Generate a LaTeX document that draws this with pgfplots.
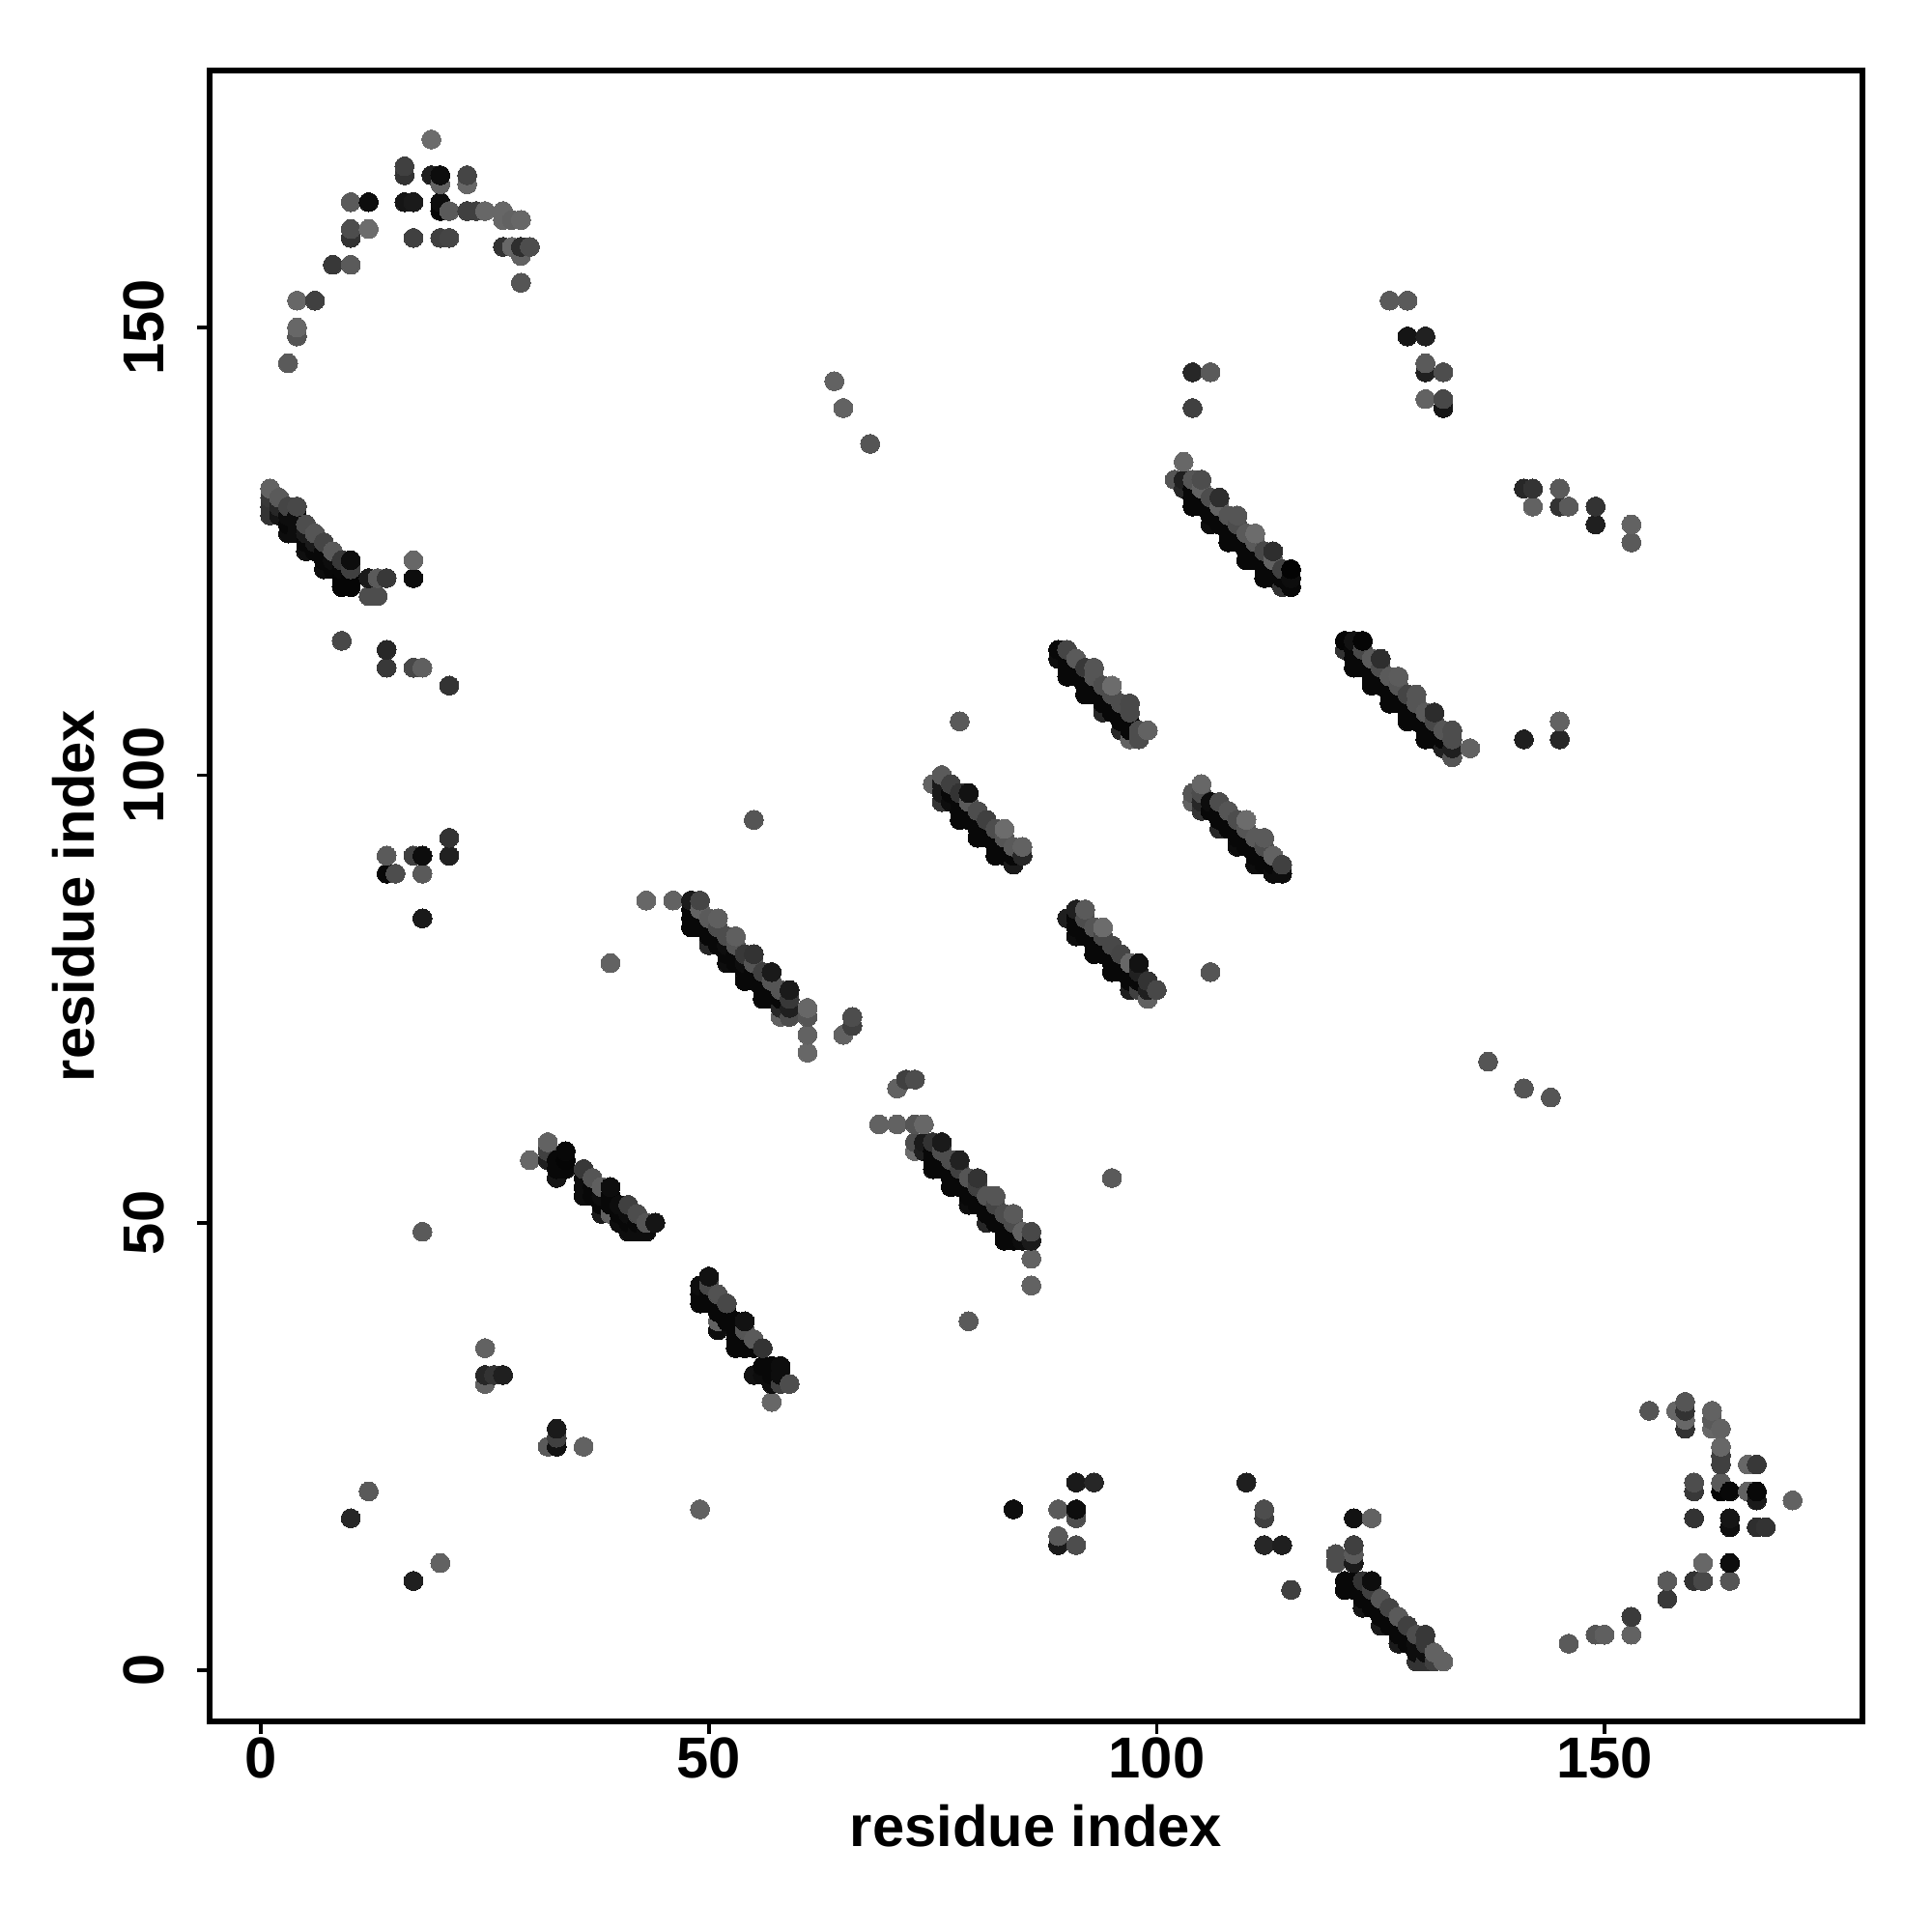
\documentclass[border=0pt]{standalone}
\usepackage{fontspec}
\setmainfont{Liberation Sans}
\usepackage{pgfplots}
\pgfplotsset{compat=1.18}
\begin{document}
\begin{tikzpicture}
\useasboundingbox (-21.7mm,-21.8mm) rectangle (178.3mm,178.2mm);
\begin{axis}[
  at={(0,0)},anchor=south west,
  scale only axis,width=171.1mm,height=170.9mm,
  xmin=-5.76,xmax=178.8,ymin=-5.69,ymax=178.7,
  xtick={0,50,100,150},ytick={0,50,100,150},
  xtick pos=lower,ytick pos=left,tick align=outside,
  major tick length=1.3mm,
  axis background/.style={},
  every axis/.append style={line width=.55mm},
  axis line style={line width=.55mm},
  tick style={line width=.38mm,black},
  /pgf/number format/assume math mode=true,
  tick label style={font=\bfseries\fontsize{17}{20}\selectfont},
  xticklabel style={anchor=base,yshift=-4.55mm},
  yticklabel style={rotate=90,anchor=base,yshift=3.4mm},
  xlabel={residue index},ylabel={residue index},
  label style={font=\bfseries\fontsize{17}{20}\selectfont},
  xlabel style={at={(axis description cs:0.5,0)},anchor=base,yshift=-12.95mm},
  ylabel style={at={(axis description cs:0,0.5)},anchor=base,yshift=11.9mm},
  colormap={bw}{gray(0cm)=(0); gray(1cm)=(1)},
  point meta min=0,point meta max=1,
  clip=false,
]
\addplot[only marks,scatter,mark=*,mark size=2.8pt,point meta=explicit,
  scatter/use mapped color={draw=mapped color,fill=mapped color,line width=0pt}]
coordinates {
(1,129)[.2](1,130)[.2](1,131)[.22](1,132)[.38]
(2,129)[.08](2,130)[.15](2,131)[.35]
(3,127)[.05](3,128)[.03](3,129)[.05](3,130)[.27](3,146)[.35]
(4,127)[.05](4,128)[.05](4,129)[.05](4,130)[.28](4,149)[.33](4,150)[.4](4,153)[.4]
(5,125)[.06](5,126)[.03](5,127)[.1](5,128)[.3]
(6,125)[.03](6,126)[.1](6,127)[.33](6,153)[.25]
(7,123)[.05](7,124)[.03](7,125)[.03](7,126)[.27]
(8,123)[.03](8,124)[.05](8,125)[.35](8,157)[.22]
(9,115)[.28](9,121)[.02](9,122)[.02](9,123)[.03](9,124)[.22]
(10,17)[.15](10,121)[.02](10,122)[.02](10,123)[.25](10,124)[.05](10,157)[.35](10,160)[.2](10,161)[.3](10,164)[.35]
(12,20)[.35](12,120)[.3](12,122)[.1](12,161)[.42](12,164)[.05]
(13,120)[.3](13,122)[.35]
(14,89)[.03](14,91)[.35](14,112)[.22](14,114)[.15](14,122)[.22]
(15,89)[.3]
(16,164)[.08](16,167)[.2](16,168)[.25]
(17,10)[.12](17,91)[.25](17,112)[.28](17,122)[.05](17,124)[.4](17,160)[.25](17,164)[.1]
(18,49)[.35](18,84)[.1](18,89)[.35](18,91)[.05](18,112)[.37]
(19,167)[.12](19,171)[.42]
(20,12)[.38](20,160)[.25](20,163)[.02](20,164)[.05](20,166)[.38](20,167)[.05]
(21,91)[.13](21,93)[.2](21,110)[.2](21,160)[.27](21,163)[.35]
(23,163)[.25](23,166)[.4](23,167)[.27]
(24,163)[.25]
(25,32)[.38](25,33)[.15](25,36)[.38](25,163)[.4]
(26,33)[.2]
(27,33)[.12](27,159)[.2](27,162)[.4](27,163)[.4]
(28,159)[.4](28,162)[.38]
(29,155)[.33](29,158)[.38](29,159)[.18](29,162)[.4]
(30,57)[.4](30,159)[.3]
(32,25)[.35](32,57)[.12](32,58)[.25](32,59)[.38]
(33,25)[.07](33,26)[.25](33,27)[.1](33,55)[.08](33,56)[.03](33,57)[.03]
(34,56)[.03](34,57)[.02](34,58)[.03]
(36,25)[.38](36,53)[.05](36,54)[.05](36,55)[.05](36,56)[.22]
(37,53)[.03](37,54)[.03](37,55)[.33]
(38,51)[.1](38,52)[.03](38,53)[.05](38,54)[.37]
(39,51)[.38](39,52)[.03](39,53)[.03](39,54)[.05](39,79)[.38]
(40,50)[.05](40,51)[.03](40,52)[.05]
(41,49)[.05](41,50)[.03](41,51)[.05](41,52)[.25]
(42,49)[.05](42,50)[.03](42,51)[.3]
(43,49)[.05](43,50)[.33](43,86)[.4]
(44,50)[.08]
(46,86)[.38]
(48,83)[.03](48,84)[.03](48,85)[.03](48,86)[.1]
(49,18)[.38](49,41)[.03](49,42)[.03](49,43)[.05](49,83)[.03](49,84)[.03](49,85)[.38](49,86)[.27]
(50,41)[.03](50,42)[.03](50,43)[.28](50,44)[.07](50,81)[.15](50,82)[.03](50,83)[.03](50,84)[.35]
(51,38)[.05](51,39)[.38](51,40)[.03](51,41)[.03](51,42)[.32](51,81)[.03](51,82)[.03](51,83)[.3](51,84)[.37]
(52,39)[.03](52,40)[.03](52,41)[.28](52,79)[.05](52,80)[.03](52,81)[.05](52,82)[.3]
(53,36)[.03](53,37)[.03](53,38)[.03](53,39)[.03](53,79)[.03](53,80)[.03](53,81)[.33](53,82)[.37]
(54,36)[.03](54,37)[.03](54,38)[.33](54,39)[.07](54,77)[.03](54,78)[.03](54,79)[.05](54,80)[.22]
(55,33)[.07](55,36)[.03](55,37)[.35](55,77)[.03](55,78)[.03](55,79)[.33](55,80)[.2](55,95)[.33]
(56,33)[.05](56,34)[.03](56,36)[.2](56,75)[.03](56,76)[.03](56,77)[.03](56,78)[.25]
(57,30)[.4](57,32)[.05](57,33)[.03](57,34)[.03](57,75)[.03](57,76)[.03](57,77)[.33](57,78)[.1]
(58,32)[.25](58,33)[.05](58,34)[.05](58,73)[.38](58,74)[.15](58,75)[.03](58,76)[.33]
(59,32)[.3](59,73)[.3](59,74)[.12](59,75)[.22](59,76)[.1]
(61,69)[.4](61,71)[.38](61,73)[.33](61,74)[.4]
(64,144)[.38]
(65,71)[.38](65,141)[.38]
(66,72)[.25](66,73)[.3]
(68,137)[.33]
(69,61)[.38]
(71,61)[.38](71,65)[.38]
(72,66)[.25]
(73,58)[.42](73,59)[.3](73,61)[.33](73,66)[.3]
(74,58)[.12](74,59)[.1](74,61)[.4]
(75,56)[.03](75,57)[.03](75,58)[.03](75,59)[.2](75,99)[.38]
(76,56)[.03](76,57)[.03](76,58)[.3](76,59)[.1](76,97)[.2](76,98)[.1](76,99)[.1](76,100)[.35]
(77,54)[.03](77,55)[.03](77,56)[.03](77,57)[.3](77,97)[.05](77,98)[.03](77,99)[.25]
(78,54)[.03](78,55)[.03](78,56)[.25](78,57)[.13](78,95)[.03](78,96)[.03](78,97)[.03](78,98)[.2](78,106)[.35]
(79,39)[.35](79,52)[.05](79,53)[.03](79,54)[.03](79,55)[.33](79,95)[.03](79,96)[.03](79,97)[.35](79,98)[.07]
(80,52)[.03](80,53)[.03](80,54)[.25](80,55)[.2](80,93)[.03](80,94)[.03](80,95)[.03](80,96)[.3]
(81,50)[.15](81,51)[.03](81,52)[.03](81,53)[.33](81,93)[.03](81,94)[.03](81,95)[.25]
(82,50)[.03](82,51)[.03](82,52)[.27](82,53)[.33](82,91)[.03](82,92)[.03](82,93)[.03](82,94)[.3]
(83,48)[.03](83,49)[.03](83,50)[.03](83,51)[.3](83,91)[.03](83,92)[.03](83,93)[.33](83,94)[.42]
(84,18)[.05](84,48)[.03](84,49)[.03](84,50)[.3](84,51)[.35](84,90)[.1](84,91)[.03](84,92)[.35]
(85,48)[.05](85,49)[.38](85,91)[.15](85,92)[.38]
(86,43)[.38](86,46)[.38](86,48)[.1](86,49)[.28]
(89,14)[.1](89,15)[.35](89,18)[.35](89,113)[.05](89,114)[.03]
(90,84)[.12](90,111)[.03](90,112)[.03](90,113)[.03](90,114)[.27]
(91,14)[.3](91,17)[.3](91,18)[.05](91,21)[.1](91,82)[.05](91,83)[.03](91,84)[.03](91,85)[.12](91,111)[.03](91,112)[.03](91,113)[.35]
(92,82)[.03](92,83)[.03](92,84)[.3](92,85)[.35](92,109)[.03](92,110)[.03](92,111)[.03](92,112)[.22]
(93,21)[.15](93,80)[.03](93,81)[.03](93,82)[.03](93,83)[.33](93,109)[.03](93,110)[.03](93,111)[.33](93,112)[.33]
(94,80)[.03](94,81)[.03](94,82)[.28](94,83)[.42](94,107)[.15](94,108)[.03](94,109)[.03](94,110)[.3]
(95,55)[.35](95,78)[.03](95,79)[.03](95,80)[.03](95,81)[.28](95,107)[.03](95,108)[.03](95,109)[.3](95,110)[.42]
(96,78)[.03](96,79)[.03](96,80)[.27](96,105)[.15](96,106)[.03](96,107)[.03](96,108)[.3]
(97,76)[.12](97,77)[.03](97,78)[.03](97,79)[.4](97,104)[.38](97,105)[.03](97,106)[.03](97,107)[.28](97,108)[.28]
(98,76)[.25](98,77)[.03](98,78)[.13](98,79)[.07](98,104)[.3](98,105)[.3]
(99,75)[.38](99,76)[.12](99,77)[.2](99,105)[.38]
(100,76)[.28]
(102,133)[.33]
(103,132)[.15](103,133)[.12](103,135)[.4]
(104,97)[.38](104,98)[.33](104,130)[.03](104,131)[.03](104,132)[.03](104,133)[.33](104,141)[.25](104,145)[.15]
(105,96)[.2](105,97)[.15](105,98)[.3](105,99)[.4](105,130)[.03](105,131)[.03](105,132)[.38](105,133)[.3]
(106,78)[.33](106,96)[.03](106,97)[.05](106,128)[.05](106,129)[.03](106,130)[.03](106,131)[.3](106,145)[.35]
(107,94)[.15](107,95)[.03](107,96)[.03](107,97)[.3](107,128)[.03](107,129)[.03](107,130)[.38](107,131)[.18]
(108,94)[.03](108,95)[.03](108,96)[.33](108,126)[.03](108,127)[.03](108,128)[.03](108,129)[.33]
(109,92)[.05](109,93)[.03](109,94)[.03](109,95)[.3](109,126)[.03](109,127)[.03](109,128)[.3](109,129)[.33]
(110,21)[.12](110,92)[.03](110,93)[.03](110,94)[.33](110,95)[.42](110,124)[.03](110,125)[.03](110,126)[.03](110,127)[.35]
(111,90)[.05](111,91)[.03](111,92)[.03](111,93)[.35](111,124)[.03](111,125)[.03](111,126)[.35](111,127)[.42]
(112,14)[.15](112,17)[.25](112,18)[.3](112,90)[.03](112,91)[.03](112,92)[.3](112,93)[.35](112,122)[.03](112,123)[.03](112,124)[.03](112,125)[.28]
(113,89)[.05](113,90)[.03](113,91)[.38](113,122)[.03](113,123)[.03](113,124)[.38](113,125)[.18]
(114,14)[.12](114,89)[.05](114,90)[.25](114,121)[.2](114,122)[.03](114,123)[.25]
(115,9)[.25](115,121)[.03](115,122)[.05](115,123)[.01]
(120,12)[.3](120,13)[.3]
(121,9)[.03](121,10)[.03](121,114)[.2](121,115)[.02]
(122,9)[.03](122,10)[.03](122,12)[.1](122,13)[.35](122,14)[.25](122,17)[.07](122,112)[.03](122,113)[.03](122,114)[.03](122,115)[.07]
(123,7)[.08](123,8)[.03](123,9)[.03](123,10)[.2](123,112)[.03](123,113)[.03](123,114)[.28](123,115)[.02]
(124,7)[.03](124,8)[.03](124,9)[.25](124,10)[.05](124,17)[.38](124,110)[.03](124,111)[.03](124,112)[.03](124,113)[.35]
(125,5)[.1](125,6)[.03](125,7)[.03](125,8)[.33](125,110)[.03](125,111)[.03](125,112)[.3](125,113)[.18]
(126,5)[.03](126,6)[.03](126,7)[.27](126,108)[.03](126,109)[.03](126,110)[.03](126,111)[.35](126,153)[.35]
(127,3)[.1](127,4)[.03](127,5)[.03](127,6)[.35](127,108)[.03](127,109)[.03](127,110)[.33](127,111)[.36]
(128,3)[.03](128,4)[.03](128,5)[.25](128,106)[.03](128,107)[.03](128,108)[.03](128,109)[.27](128,149)[.08](128,153)[.35]
(129,1)[.2](129,2)[.05](129,3)[.05](129,4)[.3](129,106)[.03](129,107)[.03](129,108)[.33](129,109)[.33]
(130,1)[.2](130,2)[.05](130,3)[.22](130,4)[.22](130,104)[.03](130,105)[.03](130,106)[.03](130,107)[.35](130,142)[.38](130,145)[.12](130,146)[.35](130,149)[.13]
(131,1)[.25](131,2)[.38](131,104)[.03](131,105)[.03](131,106)[.28](131,107)[.17]
(132,1)[.38](132,103)[.13](132,104)[.03](132,105)[.33](132,141)[.08](132,142)[.28](132,145)[.3]
(133,102)[.33](133,103)[.12](133,104)[.3](133,105)[.3]
(135,103)[.38]
(137,68)[.33]
(141,65)[.33](141,104)[.12](141,132)[.15]
(142,130)[.38](142,132)[.2]
(144,64)[.33]
(145,104)[.15](145,106)[.38](145,130)[.2](145,132)[.35]
(146,3)[.35](146,130)[.35]
(149,4)[.33](149,128)[.12](149,130)[.2]
(150,4)[.37]
(153,4)[.38](153,6)[.23](153,126)[.35](153,128)[.38]
(155,29)[.33]
(157,8)[.22](157,10)[.35]
(158,29)[.4]
(159,27)[.2](159,28)[.4](159,29)[.2](159,30)[.33]
(160,10)[.2](160,17)[.2](160,20)[.22](160,21)[.3]
(161,10)[.28](161,12)[.4]
(162,27)[.4](162,28)[.35](162,29)[.38]
(163,20)[.02](163,21)[.35](163,23)[.25](163,24)[.25](163,25)[.4](163,27)[.38]
(164,10)[.33](164,12)[.05](164,16)[.06](164,17)[.08](164,20)[.03]
(166,20)[.38](166,23)[.4]
(167,16)[.18](167,19)[.1](167,20)[.03](167,23)[.22]
(168,16)[.2]
(171,19)[.38]
};
\end{axis}
\end{tikzpicture}
\end{document}
